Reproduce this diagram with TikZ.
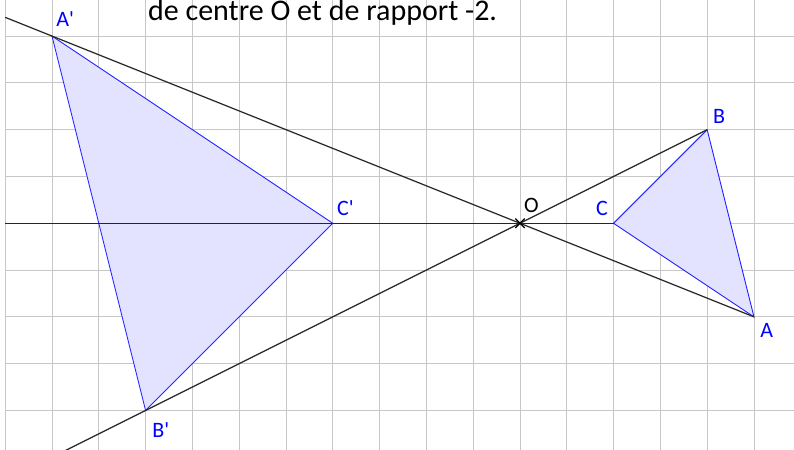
\documentclass[tikz,border=0pt]{standalone}
\usepackage{fontspec}
\setmainfont{Carlito}
\usetikzlibrary{calc}
\tikzset{
  gridline/.style={draw=black!22, line width=0.9pt},
  axisline/.style={draw=black!85, line width=1.2pt},
  tri/.style={draw=blue!85, line width=0.9pt, fill=blue!11},
  ptlabel/.style={text=blue, font=\fontsize{22}{25}\selectfont, inner sep=0pt, anchor=base west},
  titletext/.style={text=black, font=\fontsize{30}{34}\selectfont, inner sep=0pt, anchor=base west}
}
\begin{document}
\begin{tikzpicture}[x=46.8pt,y=46.8pt]
\useasboundingbox (-11.111,-4.844) rectangle (5.855,4.771);
\clip (-11.111,-4.844) rectangle (5.855,4.771);
\fill[white] (-11.111,-4.844) rectangle (5.855,4.771);
\draw[gridline, step=1] (-11,-5) grid (6,5);

\coordinate (O) at (0,0);
\coordinate (A) at (5,-2);
\coordinate (B) at (4,2);
\coordinate (C) at (2,0);
\coordinate (Ap) at (-10,4);
\coordinate (Bp) at (-8,-4);
\coordinate (Cp) at (-4,0);
\coordinate (L1) at (-11,4.4);
\coordinate (L2) at (-10,-5);
\coordinate (L3) at (-11,0);

\filldraw[tri] (A) -- (B) -- (C) -- cycle;
\filldraw[tri] (Ap) -- (Bp) -- (Cp) -- cycle;

\draw[axisline] (L1) -- (A);
\draw[axisline] (L2) -- (B);
\draw[axisline] (L3) -- (C);

\draw[black, line width=1.3pt] ($(O)+(-0.1,-0.1)$) -- ($(O)+(0.1,0.1)$);
\draw[black, line width=1.3pt] ($(O)+(-0.1,0.1)$) -- ($(O)+(0.1,-0.1)$);

\node[ptlabel] (lAp) at (-9.91,4.195) {A\textquotesingle};
\node[ptlabel] (lB) at (4.12,2.14) {B};
\node[ptlabel] (lA) at (5.13,-2.43) {A};
\node[ptlabel] (lC) at (1.62,0.156) {C};
\node[ptlabel, text=black] (lO) at (0.085,0.22) {O};
\node[ptlabel] (lBp) at (-7.86,-4.57) {B\textquotesingle};
\node[ptlabel] (lCp) at (-3.91,0.156) {C\textquotesingle};

\node[titletext] (title) at (-7.95,4.33) {de centre O et de rapport -2.};
\end{tikzpicture}
\end{document}
